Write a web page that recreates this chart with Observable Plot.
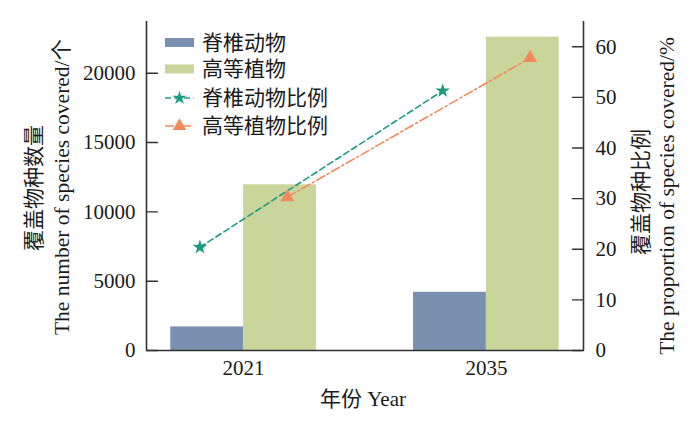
<!DOCTYPE html>
<html><head><meta charset="utf-8">
<script src="https://cdn.jsdelivr.net/npm/d3@7"></script>
<script src="https://cdn.jsdelivr.net/npm/@observablehq/plot@0.6"></script>
<style>
body{margin:0;background:#fff}
#wrap{position:relative;width:700px;height:428px;overflow:hidden}
</style>
</head><body><div id="wrap"></div>
<script>
// ---- data ----
const years = ["2021", "2035"];
const vertebrateCount = [1700, 4200];
const plantCount = [11950, 22600];
const vertebratePct = [20.4, 51.3];
const plantPct = [30.3, 57.8];
const countTicks = [0, 5000, 10000, 15000, 20000];
const pctTicks = [0, 10, 20, 30, 40, 50, 60];
const seriesNames = ["脊椎动物", "高等植物", "脊椎动物比例", "高等植物比例"];
const colors = ["#7990b0", "#cad59c", "#1d9a82", "#f4895b"];

// ---- scales setup ----
const countMax = 23730, pctMax = 65;
const k = countMax / pctMax;
const barW = 0.3, lineOff = 0.18;
const idx = years.map((_, i) => i);

const vBars = idx.map(i => ({x1: i - barW, x2: i, v: vertebrateCount[i]}));
const pBars = idx.map(i => ({x1: i, x2: i + barW, v: plantCount[i]}));
const vLine = idx.map(i => ({x: i - lineOff, y: vertebratePct[i] * k}));
const pLine = idx.map(i => ({x: i + lineOff, y: plantPct[i] * k}));

const serif = "'Liberation Serif','Times New Roman',serif";
const cjk = "'Liberation Serif','Noto Sans CJK SC',serif";
const axisColor = "#333";
const tickShape = {draw(ctx, l) { ctx.moveTo(0, 0); ctx.lineTo(0, -l); }};

const chart = Plot.plot({
  width: 700, height: 428,
  marginLeft: 146, marginRight: 117, marginTop: 21, marginBottom: 78,
  x: {domain: [-0.4, 1.4]},
  y: {domain: [0, countMax]},
  style: {fontFamily: serif, fontSize: "21px", color: "#1a1a1a", background: "#fff", overflow: "visible"},
  marks: [
    Plot.rect(vBars, {x1: "x1", x2: "x2", y1: 0, y2: "v", fill: colors[0]}),
    Plot.rect(pBars, {x1: "x1", x2: "x2", y1: 0, y2: "v", fill: colors[1]}),
    Plot.line(vLine, {x: "x", y: "y", stroke: colors[2], strokeWidth: 1.6, strokeDasharray: "6,3.5"}),
    Plot.line(pLine, {x: "x", y: "y", stroke: colors[3], strokeWidth: 1.6, strokeDasharray: "9,3,2,3"}),
    Plot.dot(vLine, {x: "x", y: "y", symbol: "star", r: 4.6, fill: colors[2], stroke: "none"}),
    Plot.dot(pLine, {x: "x", y: "y", symbol: "triangle", r: 5.2, fill: colors[3], stroke: "none"}),
    Plot.ruleY([0], {stroke: axisColor, strokeWidth: 1.6}),
    Plot.ruleX([-0.4], {stroke: axisColor, strokeWidth: 1.6}),
    Plot.ruleX([1.4], {stroke: axisColor, strokeWidth: 1.6}),
    // inward ticks
    Plot.vector(countTicks, {y: d => d, frameAnchor: "left", rotate: 90, length: 11, anchor: "start", shape: tickShape, stroke: axisColor, strokeWidth: 1.4}),
    Plot.vector(pctTicks.map(v => v * k), {y: d => d, frameAnchor: "right", rotate: -90, length: 11, anchor: "start", shape: tickShape, stroke: axisColor, strokeWidth: 1.4}),
    Plot.axisY(countTicks, {anchor: "left", label: null, tickSize: 0, tickPadding: 11, tickFormat: d => String(d), fontSize: 21}),
    Plot.axisY(pctTicks.map(v => v * k), {anchor: "right", label: null, tickSize: 0, tickPadding: 12, tickFormat: d => String(Math.round(d / k)), fontSize: 21}),
    Plot.axisX(idx, {anchor: "bottom", label: null, tickSize: 0, tickPadding: 10, tickFormat: i => years[i], fontSize: 21})
  ]
});
document.getElementById("wrap").appendChild(chart);

// ---- titles & legend ----
const svg = d3.select(chart);
function vtitle(x, y, txt, size) {
  svg.append("text").attr("transform", `translate(${x},${y}) rotate(-90)`)
    .attr("text-anchor", "middle").attr("dominant-baseline", "central")
    .style("font-family", cjk).style("font-size", size + "px").style("fill", "#1a1a1a").text(txt);
}
vtitle(34, 188, "覆盖物种数量", 21);
vtitle(62, 187, "The number of species covered/个", 21.5);
vtitle(641, 192, "覆盖物种比例", 21);
vtitle(667, 196, "The proportion of species covered/%", 21.5);

svg.append("text").attr("x", 363).attr("y", 399).attr("text-anchor", "middle")
  .attr("dominant-baseline", "central").style("font-family", cjk).style("font-size", "21px")
  .style("fill", "#1a1a1a").text("年份 Year");

const lg = svg.append("g");
const rows = [42.5, 69, 98, 126];
lg.append("rect").attr("x", 165).attr("y", rows[0] - 4.5).attr("width", 29).attr("height", 9).attr("fill", colors[0]);
lg.append("rect").attr("x", 165).attr("y", rows[1] - 4.5).attr("width", 29).attr("height", 9).attr("fill", colors[1]);
lg.append("line").attr("x1", 165).attr("x2", 194).attr("y1", rows[2]).attr("y2", rows[2])
  .attr("stroke", colors[2]).attr("stroke-width", 1.6).attr("stroke-dasharray", "6,3.5");
lg.append("path").attr("transform", `translate(179.5,${rows[2]})`).attr("d", d3.symbol(d3.symbolStar, 60)()).attr("fill", colors[2]);
lg.append("line").attr("x1", 165).attr("x2", 194).attr("y1", rows[3]).attr("y2", rows[3])
  .attr("stroke", colors[3]).attr("stroke-width", 1.6).attr("stroke-dasharray", "9,3,2,3");
lg.append("path").attr("transform", `translate(179.5,${rows[3]})`).attr("d", d3.symbol(d3.symbolTriangle, 80)()).attr("fill", colors[3]);
seriesNames.forEach((n, i) => {
  lg.append("text").attr("x", 202).attr("y", rows[i]).attr("text-anchor", "start").attr("dominant-baseline", "central")
    .style("font-family", cjk).style("font-size", "21px").style("fill", "#1a1a1a").text(n);
});
</script>
</body></html>
